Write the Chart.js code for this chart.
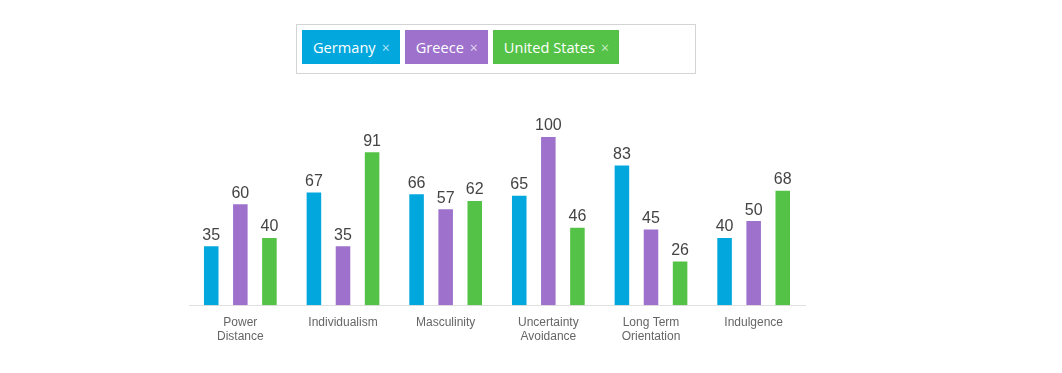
<!DOCTYPE html>
<html>
<head>
<meta charset="utf-8">
<script src="https://cdn.jsdelivr.net/npm/chart.js"></script>
<style>
  body { margin: 0; background: #fff; width: 1062px; height: 373px; overflow: hidden; position: relative; }
  #tags {
    position: absolute; left: 296px; top: 24px; width: 388px; height: 38px;
    border: 1px solid #d4d4d4; padding: 5px; font-family: "Open Sans", sans-serif;
  }
  .tag {
    float: left; height: 34px; line-height: 34px; color: #fff; font-size: 14.6px;
    padding: 0 10px 0 11px; margin-right: 5px; box-sizing: border-box;
  }
  .tag span { color: rgba(255,255,255,0.7); margin-left: 6px; font-size: 14px; }
  #wrap { position: absolute; left: 0; top: 0; width: 1062px; height: 373px; }
</style>
</head>
<body>
<div id="tags"></div>
<div id="wrap"><canvas id="myChart"></canvas></div>
<script>
var countries = ["Germany", "Greece", "United States"];
var colors = ["#02a7de", "#9e72cc", "#54c246"];
var dimensions = [["Power", "Distance"], "Individualism", "Masculinity", ["Uncertainty", "Avoidance"], ["Long Term", "Orientation"], "Indulgence"];
var germany = [35, 67, 66, 65, 83, 40];
var greece = [60, 35, 57, 100, 45, 50];
var usa = [40, 91, 62, 46, 26, 68];

// tag box on top
var box = document.getElementById("tags");
for (var i = 0; i < countries.length; i++) {
    var t = document.createElement("div");
    t.className = "tag";
    t.style.backgroundColor = colors[i];
    t.innerHTML = countries[i] + "<span>&times;</span>";
    box.appendChild(t);
}

// numbers above the bars
var valueLabels = {
    id: "valueLabels",
    afterDatasetsDraw: function(chart) {
        var ctx = chart.ctx;
        ctx.save();
        ctx.font = "16px 'Liberation Sans', Arial, sans-serif";
        ctx.fillStyle = "#444";
        ctx.textAlign = "center";
        ctx.textBaseline = "bottom";
        chart.data.datasets.forEach(function(ds, d) {
            chart.getDatasetMeta(d).data.forEach(function(bar, j) {
                ctx.fillText(ds.data[j], bar.x, bar.y - 3);
            });
        });
        ctx.restore();
    }
};

var ctx = document.getElementById("myChart").getContext("2d");
var chart = new Chart(ctx, {
    type: 'bar',
    data: {
        labels: dimensions,
        datasets: [{
            label: countries[0],
            backgroundColor: colors[0],
            data: germany
        }, {
            label: countries[1],
            backgroundColor: colors[1],
            data: greece
        }, {
            label: countries[2],
            backgroundColor: colors[2],
            data: usa
        }]
    },
    options: {
        responsive: true,
        maintainAspectRatio: false,
        animation: false,
        layout: { padding: { left: 189, right: 257, top: 137, bottom: 19 } },
        categoryPercentage: 0.85,
        barPercentage: 0.5,
        plugins: { legend: { display: false }, tooltip: { enabled: false } },
        scales: {
            x: {
                grid: { display: false, drawTicks: false },
                border: { display: true, color: "#e0e0e0" },
                ticks: {
                    padding: 10, color: "#666", maxRotation: 0, autoSkip: false,
                    font: { family: "'Liberation Sans', Arial, sans-serif", size: 12 }
                }
            },
            y: { display: false, min: 0, max: 100 }
        }
    },
    plugins: [valueLabels]
});
</script>
</body>
</html>
